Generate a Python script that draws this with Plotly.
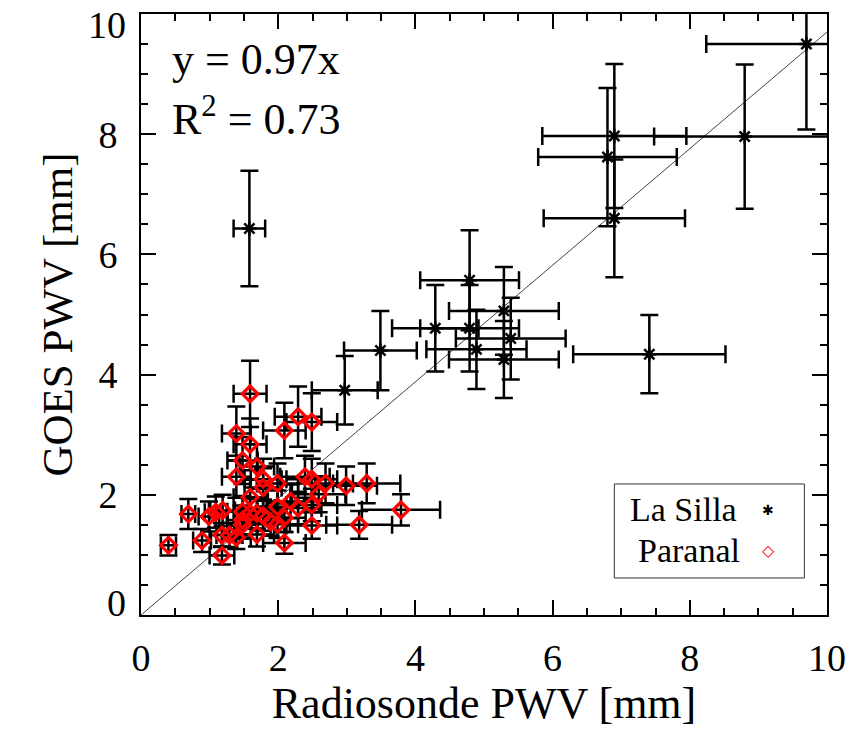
import plotly.graph_objects as go

# ---- data ----
lasilla_x = [9.70, 8.80, 6.90, 6.80, 6.90, 1.58, 4.79, 5.29, 4.29, 4.79, 5.39, 4.89, 3.49, 7.41, 5.29, 2.97]
lasilla_y = [9.50, 7.96, 7.97, 7.62, 6.60, 6.43, 5.57, 5.06, 4.77, 4.77, 4.60, 4.42, 4.40, 4.34, 4.25, 3.74]
lasilla_xerr = [1.46, 1.32, 1.05, 1.01, 1.03, 0.23, 0.72, 0.80, 0.63, 0.72, 0.80, 0.73, 0.53, 1.11, 0.80, 0.48]
lasilla_yerr = [1.42, 1.20, 1.20, 1.15, 0.98, 0.96, 0.83, 0.73, 0.72, 0.72, 0.68, 0.66, 0.66, 0.65, 0.64, 0.57]

paranal_x = [1.59, 2.29, 2.49, 1.39, 2.09, 1.59, 1.48, 1.69, 1.39, 1.78, 1.78, 1.99, 2.39, 2.49, 2.69, 2.99,
             3.29, 2.59, 1.59, 1.99, 2.18, 2.29, 2.49, 3.79, 0.69, 0.99, 1.09, 1.19, 1.48, 1.59, 1.69, 1.78,
             1.89, 1.99, 2.09, 1.48, 1.48, 2.49, 3.18, 0.40, 0.89, 1.18, 1.29, 1.39, 1.69, 2.09, 1.18]
paranal_y = [3.68, 3.30, 3.21, 3.02, 3.07, 2.84, 2.57, 2.47, 2.30, 2.26, 2.12, 2.19, 2.30, 2.26, 2.19, 2.15,
             2.19, 2.01, 1.96, 1.80, 1.89, 1.78, 1.83, 1.75, 1.68, 1.64, 1.71, 1.74, 1.72, 1.69, 1.69, 1.65,
             1.55, 1.51, 1.62, 1.50, 1.58, 1.49, 1.50, 1.16, 1.24, 1.33, 1.33, 1.29, 1.34, 1.20, 0.99]
paranal_xerr = [0.24, 0.34, 0.37, 0.21, 0.31, 0.24, 0.22, 0.25, 0.21, 0.27, 0.27, 0.30, 0.36, 0.37, 0.40, 0.45,
                0.49, 0.39, 0.24, 0.30, 0.33, 0.34, 0.37, 0.57, 0.10, 0.15, 0.16, 0.18, 0.22, 0.24, 0.25, 0.27,
                0.28, 0.30, 0.31, 0.22, 0.22, 0.37, 0.48, 0.11, 0.13, 0.18, 0.19, 0.21, 0.25, 0.31, 0.18]
paranal_yerr = [0.55, 0.50, 0.48, 0.45, 0.46, 0.43, 0.39, 0.37, 0.35, 0.34, 0.32, 0.33, 0.35, 0.34, 0.33, 0.32,
                0.33, 0.30, 0.29, 0.27, 0.28, 0.27, 0.27, 0.26, 0.25, 0.25, 0.26, 0.26, 0.26, 0.25, 0.25, 0.25,
                0.23, 0.23, 0.24, 0.23, 0.24, 0.22, 0.23, 0.17, 0.19, 0.20, 0.20, 0.19, 0.20, 0.18, 0.15]

fit_slope = 0.97
fit_x = [0, 10]
fit_y = [fit_slope * v for v in fit_x]

x_ticks = [0, 2, 4, 6, 8, 10]
y_ticks = [0, 2, 4, 6, 8, 10]

FONT = "Liberation Serif"

fig = go.Figure()

fig.add_trace(go.Scatter(x=fit_x, y=fit_y, mode="lines",
                         line=dict(color="#444444", width=1), showlegend=False, hoverinfo="skip"))

fig.add_trace(go.Scatter(
    x=lasilla_x, y=lasilla_y, mode="markers", name="La Silla",
    error_x=dict(type="data", array=lasilla_xerr, color="black", thickness=2.5, width=9),
    error_y=dict(type="data", array=lasilla_yerr, color="black", thickness=2.5, width=9),
    marker=dict(symbol="asterisk-open", size=12, color="black", line=dict(color="black", width=2.5)),
    showlegend=False))

fig.add_trace(go.Scatter(
    x=paranal_x, y=paranal_y, mode="markers", name="Paranal",
    error_x=dict(type="data", array=paranal_xerr, color="black", thickness=2.5, width=9),
    error_y=dict(type="data", array=paranal_yerr, color="black", thickness=2.5, width=9),
    marker=dict(symbol="diamond-open", size=12, color="red", line=dict(color="red", width=3.2)),
    showlegend=False))

axis_common = dict(
    range=[0, 10], showgrid=False, zeroline=False,
    showline=True, linecolor="black", linewidth=2, mirror="allticks",
    ticks="inside", ticklen=15, tickwidth=2, tickcolor="black",
    minor=dict(dtick=0.5, ticks="inside", ticklen=7, tickwidth=2, tickcolor="black"),
    tickfont=dict(family=FONT, size=38, color="black"),
)

fig.update_xaxes(**axis_common, tickvals=x_ticks, ticktext=[str(v) for v in x_ticks],
                 ticklabelstandoff=8,
                 title=dict(text="Radiosonde PWV [mm]", font=dict(family=FONT, size=44, color="black"),
                            standoff=10))
# y end labels (0 and 10) sit nudged inward in the reference; they are drawn as annotations below
y_inner = y_ticks[1:-1]
fig.update_yaxes(**axis_common, tickvals=y_inner, ticktext=[str(v) for v in y_inner],
                 ticklabelstandoff=14,
                 title=dict(text="GOES PWV [mm]", font=dict(family=FONT, size=43, color="black"),
                            standoff=12))

fig.add_annotation(xref="paper", yref="y", x=0, y=y_ticks[-1], xanchor="right", yanchor="middle",
                   xshift=-13, yshift=-11, text=str(y_ticks[-1]), showarrow=False,
                   font=dict(family=FONT, size=38, color="black"))
fig.add_annotation(xref="paper", yref="y", x=0, y=y_ticks[0], xanchor="right", yanchor="middle",
                   xshift=-13, yshift=12, text=str(y_ticks[0]), showarrow=False,
                   font=dict(family=FONT, size=38, color="black"))

# fit text
fig.add_annotation(xref="paper", yref="paper", x=0.043, y=0.925, xanchor="left", yanchor="middle",
                   text="y = 0.97x", showarrow=False, font=dict(family=FONT, size=44, color="black"))
fig.add_annotation(xref="paper", yref="paper", x=0.043, y=0.83, xanchor="left", yanchor="middle",
                   text="R<sup>2</sup> = 0.73", showarrow=False, font=dict(family=FONT, size=44, color="black"))

# custom legend (text left of symbol, as in reference)
fig.add_shape(type="rect", xref="paper", yref="paper", x0=0.690, x1=0.967, y0=0.0616, y1=0.218,
              line=dict(color="#333333", width=1), fillcolor="white", layer="above")
fig.add_annotation(xref="paper", yref="paper", x=0.791, y=0.175, xanchor="center", yanchor="middle",
                   text="La Silla", showarrow=False, font=dict(family=FONT, size=34, color="black"))
fig.add_annotation(xref="paper", yref="paper", x=0.799, y=0.108, xanchor="center", yanchor="middle",
                   text="Paranal", showarrow=False, font=dict(family=FONT, size=34, color="black"))
fig.add_annotation(xref="paper", yref="paper", x=0.914, y=0.175, xanchor="center", yanchor="middle",
                   text="<b>✱</b>", showarrow=False, font=dict(family="DejaVu Sans", size=14, color="black"))
fig.add_annotation(xref="paper", yref="paper", x=0.914, y=0.108, xanchor="center", yanchor="middle",
                   text="<b>◇</b>", showarrow=False, font=dict(family="DejaVu Sans", size=16, color="red"))

fig.update_layout(
    width=858, height=731,
    margin=dict(l=141, r=27, t=14, b=116),
    paper_bgcolor="white", plot_bgcolor="white",
    showlegend=False,
)

fig.write_html("out.html")
